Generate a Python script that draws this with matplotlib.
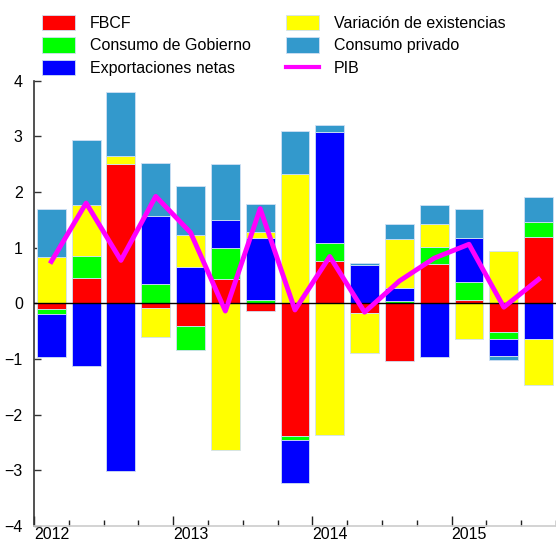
import numpy as np
import matplotlib.pyplot as plt
from matplotlib.patches import Patch
from matplotlib.lines import Line2D

plt.rcParams.update({
    'font.family': ['Liberation Sans', 'DejaVu Sans'],
    'font.size': 11.5,
})

# quarterly contributions, 2012Q1 .. 2015Q3
years = ['2012', '2013', '2014', '2015']
fbcf     = [-0.11, 0.46, 2.50, -0.08, -0.40, 0.43, -0.13, -2.38, 0.76, -0.18, -1.04, 0.70, 0.06, -0.52, 1.19]
gobierno = [-0.09, 0.38, 0.00, 0.35, -0.44, 0.57, 0.06, -0.07, 0.32, 0.00, 0.04, 0.31, 0.32, -0.13, 0.27]
export   = [-0.76, -1.13, -3.02, 1.22, 0.65, 0.50, 1.11, -0.78, 2.00, 0.69, 0.23, -0.96, 0.79, -0.30, -0.64]
existenc = [0.83, 0.93, 0.15, -0.53, 0.57, -2.63, 0.11, 2.32, -2.37, -0.72, 0.88, 0.42, -0.65, 0.94, -0.83]
privado  = [0.86, 1.16, 1.15, 0.95, 0.88, 1.00, 0.50, 0.78, 0.12, 0.04, 0.28, 0.34, 0.52, -0.07, 0.44]
pib      = [0.75, 1.80, 0.77, 1.92, 1.27, -0.14, 1.70, -0.12, 0.84, -0.16, 0.40, 0.81, 1.06, -0.07, 0.43]

series = [
    (fbcf,     '#ff0000', 'FBCF'),
    (gobierno, '#00ff00', 'Consumo de Gobierno'),
    (export,   '#0000ff', 'Exportaciones netas'),
    (existenc, '#ffff00', 'Variación de existencias'),
    (privado,  '#3399cc', 'Consumo privado'),
]

n = len(pib)
x = np.arange(n) + 0.5

fig = plt.figure(figsize=(5.56, 5.44), dpi=100)
ax = fig.add_axes([0.061, 0.033, 0.939, 0.819])

pos_base = np.zeros(n)
neg_base = np.zeros(n)
for vals, color, label in series:
    v = np.array(vals)
    base = np.where(v >= 0, pos_base, neg_base)
    ax.bar(x, v, width=0.83, bottom=base, color=color,
           edgecolor='#d0e0f4', linewidth=0.6, zorder=2)
    pos_base += np.where(v >= 0, v, 0)
    neg_base += np.where(v < 0, v, 0)

ax.axhline(0, color='black', linewidth=1.0, zorder=3)
ax.plot(x, pib, color='#ff00ff', linewidth=3.5, zorder=4)

ax.set_xlim(0, n)
ax.set_ylim(-4, 4)
ax.set_yticks(range(-4, 5))

ax.set_xticks([0, 4, 8, 12])
ax.set_xticklabels(years)
for lab in ax.get_xticklabels():
    lab.set_horizontalalignment('left')
ax.set_xticks(range(n + 1), minor=True)
ax.tick_params(axis='x', which='major', direction='in', length=7, width=1,
               color='#222222', pad=1)
ax.tick_params(axis='x', which='minor', direction='in', length=4, width=1,
               color='#222222')
ax.tick_params(axis='y', direction='in', length=5, width=1, color='#333333', pad=8)

for s in ['top', 'right']:
    ax.spines[s].set_visible(False)
ax.spines['left'].set_color('#333333')
ax.spines['left'].set_linewidth(1.2)
ax.spines['bottom'].set_color('#cccccc')
ax.spines['bottom'].set_linewidth(1.2)

handles = [Patch(facecolor=c, edgecolor='#d0e0f4', linewidth=0.6) for _, c, _ in series]
handles.append(Line2D([0], [0], color='#ff00ff', linewidth=3))
labels = [lbl for _, _, lbl in series] + ['PIB']
fig.legend(handles, labels, ncol=2, loc='upper left',
           bbox_to_anchor=(0.064, 0.985), frameon=False,
           handlelength=2.05, handleheight=1.1, handletextpad=0.95,
           labelspacing=0.42, columnspacing=2.2, borderaxespad=0, borderpad=0.4)

fig.savefig('out.png', dpi=100)
